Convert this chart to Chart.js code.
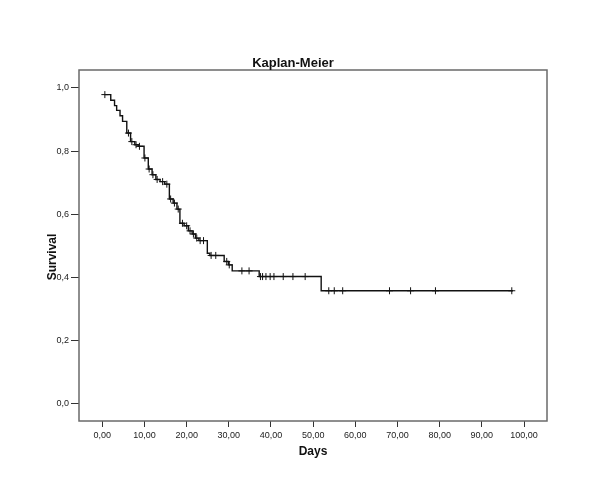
<!DOCTYPE html>
<html>
<head>
<meta charset="utf-8">
<script src="https://cdn.jsdelivr.net/npm/chart.js@4"></script>
<style>
  html, body { margin: 0; padding: 0; background: #fff; }
  #c { display: block; }
</style>
</head>
<body>
<canvas id="c" width="600" height="496"></canvas>
<script>
// Kaplan-Meier step curve: time of each drop and survival level after it
const stepTimes = [0.6, 2.0, 2.9, 3.4, 4.2, 4.8, 5.8, 6.7, 7.7, 8.5, 9.9, 10.9, 11.8, 12.7, 13.7, 14.8, 15.9, 16.8, 17.7, 18.4, 19.4, 20.4, 21.3, 22.1, 22.9, 24.9, 25.5, 28.9, 29.9, 30.8, 37.2, 51.9, 97.4];
const survival  = [0.979, 0.961, 0.944, 0.929, 0.912, 0.894, 0.857, 0.830, 0.820, 0.815, 0.778, 0.743, 0.725, 0.710, 0.703, 0.695, 0.648, 0.635, 0.616, 0.571, 0.563, 0.547, 0.537, 0.524, 0.516, 0.476, 0.469, 0.450, 0.439, 0.420, 0.402, 0.357, 0.357];
// Censored observations (times)
const censorTimes = [0.6, 6.2, 7.0, 8.0, 8.8, 10.1, 11.1, 12.0, 13.0, 14.3, 15.3, 16.2, 17.1, 18.0, 19.0, 20.0, 20.8, 21.6, 22.4, 23.2, 24.0, 25.8, 26.9, 29.5, 30.1, 33.1, 34.8, 37.5, 38.0, 38.8, 39.8, 40.7, 42.9, 45.2, 48.1, 53.7, 55.0, 57.0, 68.1, 73.1, 79.0, 97.1];
// Tick labels
const xTicks = [0, 10, 20, 30, 40, 50, 60, 70, 80, 90, 100];
const yTicks = [0, 0.2, 0.4, 0.6, 0.8, 1.0];
const chartTitle = 'Kaplan-Meier';
const xTitle = 'Days';
const yTitle = 'Survival';

function levelAt(t) {
  let s = survival[0];
  for (let i = 0; i < stepTimes.length; i++) {
    if (stepTimes[i] <= t) s = survival[i];
  }
  return s;
}

const curvePoints = stepTimes.map((t, i) => ({ x: t, y: survival[i] }));
const censorPoints = censorTimes.map(t => ({ x: t, y: levelAt(t) }));

const FONT = 'Arial, "Liberation Sans", Helvetica, sans-serif';

const framePlugin = {
  id: 'frame',
  afterDatasetsDraw(chart) {
    const { ctx, chartArea: a } = chart;
    ctx.save();
    ctx.strokeStyle = '#6a6a6a';
    ctx.lineWidth = 1.5;
    ctx.strokeRect(a.left, a.top, a.right - a.left, a.bottom - a.top);
    ctx.restore();
  },
  afterDraw(chart) {
    const { ctx } = chart;
    ctx.save();
    ctx.fillStyle = '#111';
    ctx.textAlign = 'center';
    ctx.textBaseline = 'middle';
    ctx.font = 'bold 13px ' + FONT;
    ctx.fillText(chartTitle, 293, 63);
    ctx.translate(53, 257);
    ctx.rotate(-Math.PI / 2);
    ctx.font = 'bold 12px ' + FONT;
    ctx.fillText(yTitle, 0, 0);
    ctx.restore();
  }
};

new Chart(document.getElementById('c'), {
  type: 'scatter',
  data: {
    datasets: [
      {
        data: curvePoints,
        showLine: true,
        stepped: true,
        borderColor: '#111',
        borderWidth: 1.4,
        pointRadius: 0,
        fill: false
      },
      {
        data: censorPoints,
        showLine: false,
        pointStyle: 'cross',
        pointRadius: 3.5,
        borderColor: '#111',
        borderWidth: 1,
        backgroundColor: '#111'
      }
    ]
  },
  options: {
    responsive: false,
    animation: false,
    devicePixelRatio: 1,
    layout: { padding: { top: 70, right: 53, left: 0, bottom: 0 } },
    plugins: {
      legend: { display: false },
      tooltip: { enabled: false },
      title: { display: false }
    },
    scales: {
      x: {
        type: 'linear',
        min: -5.53,
        max: 105.45,
        afterBuildTicks: s => { s.ticks = xTicks.map(v => ({ value: v })); },
        afterFit: s => { s.height = 75; },
        grid: { drawOnChartArea: false, drawTicks: true, tickLength: 6, tickColor: '#333', tickWidth: 1 },
        border: { display: false },
        ticks: {
          padding: 3,
          color: '#222',
          font: { family: FONT, size: 9 },
          maxRotation: 0,
          autoSkip: false,
          callback: v => v.toFixed(2).replace('.', ',')
        },
        title: {
          display: true,
          text: xTitle,
          color: '#111',
          font: { family: FONT, size: 12, weight: 'bold' },
          padding: { top: 37, bottom: 37 }
        }
      },
      y: {
        type: 'linear',
        min: -0.056,
        max: 1.057,
        afterBuildTicks: s => { s.ticks = yTicks.map(v => ({ value: v })); },
        afterFit: s => { s.width = 79; },
        grid: { drawOnChartArea: false, drawTicks: true, tickLength: 8, tickColor: '#333', tickWidth: 1 },
        border: { display: false },
        ticks: {
          padding: 2,
          color: '#222',
          font: { family: FONT, size: 9 },
          autoSkip: false,
          callback: v => v.toFixed(1).replace('.', ',')
        },
        title: { display: false }
      }
    }
  },
  plugins: [framePlugin]
});
</script>
</body>
</html>
